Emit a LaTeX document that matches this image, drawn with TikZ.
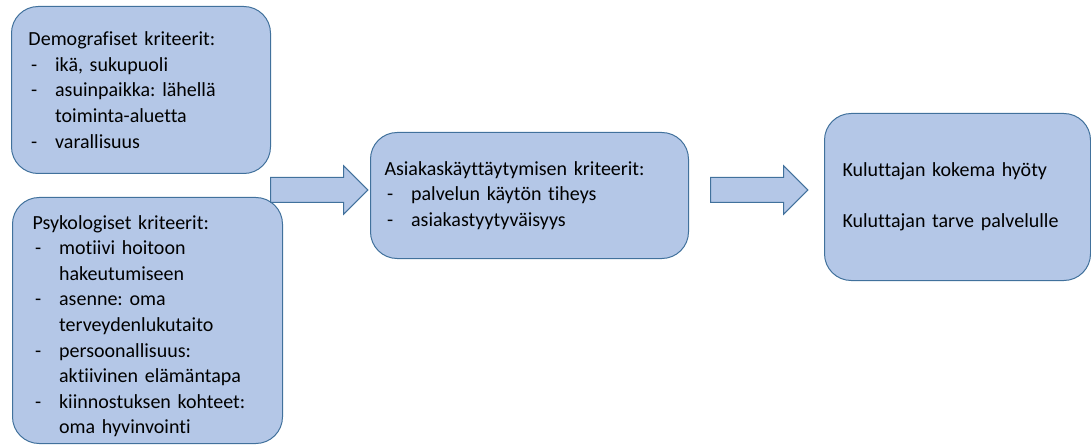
\documentclass[tikz,border=0pt]{standalone}
\usepackage{fontspec}
\setmainfont{Carlito}[Ligatures=NoCommon]
\usetikzlibrary{shapes.arrows}

\definecolor{boxfill}{HTML}{B4C7E7}
\definecolor{boxline}{HTML}{41719C}

\newcommand{\dashitem}{\makebox[20pt][l]{\hspace{2pt}-}}
\newcommand{\contline}{\hspace*{20pt}}
\frenchspacing

\begin{document}
\begin{tikzpicture}[x=0.75pt, y=-0.75pt,
    critbox/.style={draw=boxline, fill=boxfill, line width=0.75pt,
      rounded corners=20pt, anchor=north west, align=left, inner ysep=0pt,
      font=\fontsize{15pt}{19.2pt}\selectfont},
    blockarrow/.style={single arrow, draw=boxline, fill=boxfill,
      line width=0.75pt, inner xsep=0pt, inner ysep=9pt,
      minimum height=73pt, single arrow head extend=8.8pt}]
  \useasboundingbox (0,0) rectangle (1091,445);

  % left column
  \node[critbox, inner xsep=12.75pt, text width=168.75pt,
    minimum height=125.25pt] (demo) at (11,6)
    {Demografiset kriteerit:\\
     \dashitem ikä, sukupuoli\\
     \dashitem asuinpaikka: lähellä\\
     \contline toiminta-aluetta\\
     \dashitem varallisuus};

  \node[critbox, inner xsep=15pt, text width=172.5pt,
    minimum height=184.5pt] (psyk) at (12,197)
    {\rule{0pt}{19pt}Psykologiset kriteerit:\\
     \dashitem motiivi hoitoon\\
     \contline hakeutumiseen\\
     \dashitem asenne: oma\\
     \contline terveydenlukutaito\\
     \dashitem persoonallisuus:\\
     \contline aktiivinen elämäntapa\\
     \dashitem kiinnostuksen kohteet:\\
     \contline oma hyvinvointi};

  % middle
  \node[critbox, inner xsep=10.5pt, text width=217.5pt,
    minimum height=94.5pt] (asiakas) at (370,132)
    {Asiakaskäyttäytymisen kriteerit:\\
     \dashitem palvelun käytön tiheys\\
     \dashitem asiakastyytyväisyys};

  % right
  \node[critbox, inner xsep=13.5pt, text width=172.5pt,
    minimum height=125.25pt] (hyoty) at (824,113)
    {Kuluttajan kokema hyöty\\[19.2pt]
     Kuluttajan tarve palvelulle};

  % block arrows
  \node[blockarrow] (arr1) at (313,190) {};
  \node[blockarrow] (arr2) at (753,190) {};
\end{tikzpicture}
\end{document}
